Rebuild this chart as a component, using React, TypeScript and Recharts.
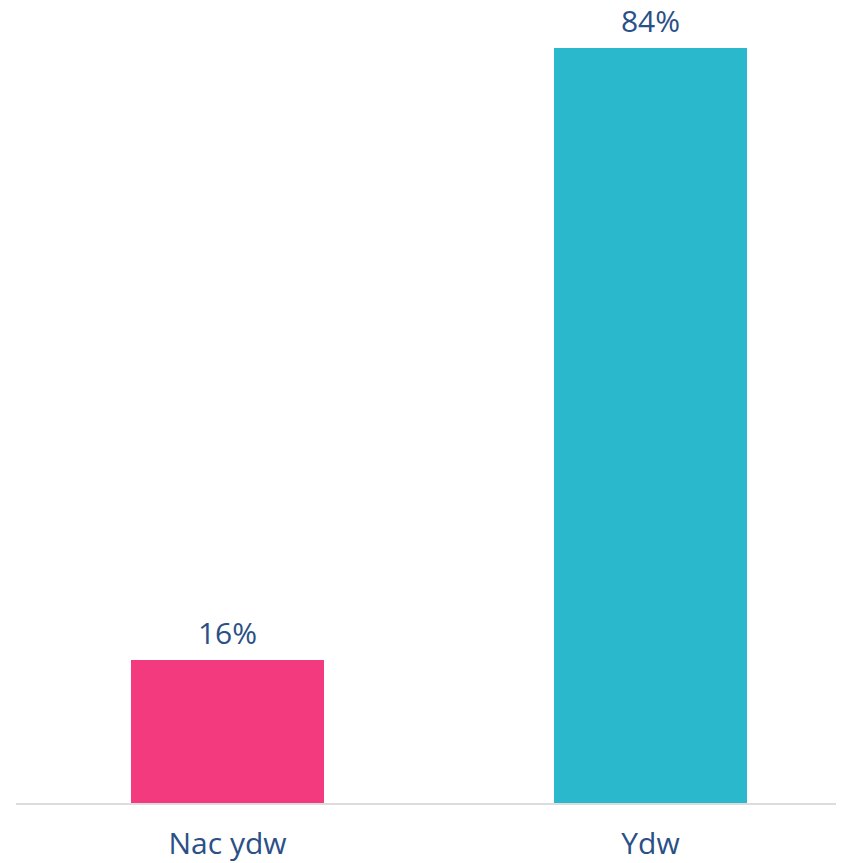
import React from "react";
import { BarChart, Bar, XAxis, YAxis, Cell, LabelList } from "recharts";

const categories = ["Nac ydw", "Ydw"];
const values = [16, 84];
const colors = ["#F33A7F", "#2AB8CD"];

const data = categories.map((name, i) => ({ name, value: values[i] }));

const TEXT = "#2B5087";
const FONT = "'Open Sans', 'Noto Sans', sans-serif";

export default function App() {
  return (
    <div style={{ width: 900, height: 855, overflow: "hidden" }}>
      <style>{`html,body{overflow:hidden}`}</style>
      <BarChart
        width={900}
        height={855}
        data={data}
        margin={{ top: 40, right: 46, bottom: 0, left: 8 }}
        style={{ overflow: "visible" }}
      >
        <XAxis
          dataKey="name"
          height={59}
          axisLine={{ stroke: "#DCDCDC", strokeWidth: 2 }}
          tickLine={false}
          tickSize={0}
          tickMargin={29}
          tick={{ fill: TEXT, fontSize: 30, fontFamily: FONT }}
        />
        <YAxis hide domain={[0, 84]} />
        <Bar dataKey="value" barSize={193} isAnimationActive={false}>
          {data.map((d, i) => (
            <Cell key={d.name} fill={colors[i]} />
          ))}
          <LabelList
            dataKey="value"
            position="top"
            offset={16}
            formatter={(v: any) => `${v}%`}
            style={{ fill: TEXT, fontSize: 30, fontFamily: FONT }}
          />
        </Bar>
      </BarChart>
    </div>
  );
}
